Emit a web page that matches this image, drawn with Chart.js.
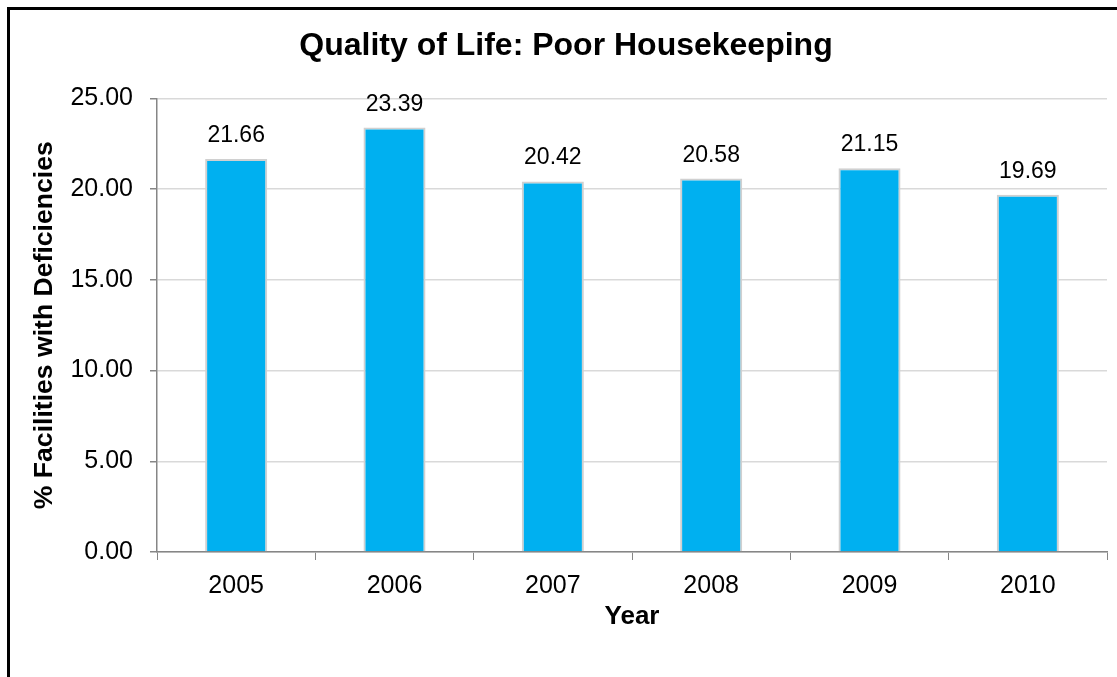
<!DOCTYPE html>
<html>
<head>
<meta charset="utf-8">
<script src="https://cdn.jsdelivr.net/npm/chart.js@4"></script>
<style>
  html, body { margin: 0; padding: 0; background: #fff; overflow: hidden; }
  #frame {
    position: absolute; left: 7px; top: 7px; width: 1200px; height: 800px;
    border: 3px solid #000; box-sizing: border-box;
  }
  #chart { position: absolute; left: 0; top: 0; }
</style>
</head>
<body>
<div id="frame"></div>
<canvas id="chart" width="1117" height="677"></canvas>
<script>
// data
const years = ["2005", "2006", "2007", "2008", "2009", "2010"];
const poorHousekeeping = [21.66, 23.39, 20.42, 20.58, 21.15, 19.69];
const yTicks = [0, 5, 10, 15, 20, 25];

const FONT = "'Liberation Sans', Arial, sans-serif";
const axisGray = "#868686";

// value labels above each bar
const barLabels = {
  id: "barLabels",
  afterDatasetsDraw(chart) {
    const ctx = chart.ctx;
    const meta = chart.getDatasetMeta(0);
    ctx.save();
    ctx.font = "23px " + FONT;
    ctx.fillStyle = "#000";
    ctx.textAlign = "center";
    ctx.textBaseline = "alphabetic";
    meta.data.forEach((bar, i) => {
      ctx.fillText(poorHousekeeping[i].toFixed(2), bar.x, bar.y - 17);
    });
    ctx.restore();
  },
};

const ctx = document.getElementById("chart");
new Chart(ctx, {
  type: "bar",
  data: {
    labels: years,
    datasets: [
      {
        data: poorHousekeeping,
        backgroundColor: "#00B0F0",
        borderColor: "#d0d0d0",
        borderWidth: 2,
        barPercentage: 0.392,
        categoryPercentage: 1,
      },
    ],
  },
  options: {
    responsive: false,
    animation: false,
    devicePixelRatio: 1,
    layout: { padding: { left: 25, right: 10, top: 0, bottom: 0 } },
    plugins: {
      legend: { display: false },
      tooltip: { enabled: false },
      title: {
        display: true,
        text: "Quality of Life: Poor Housekeeping",
        color: "#000",
        font: { family: FONT, size: 32, weight: "bold", lineHeight: 1.2 },
        padding: { top: 27, bottom: 33 },
      },
    },
    scales: {
      x: {
        grid: {
          display: true,
          drawOnChartArea: false,
          drawTicks: true,
          tickLength: 8,
          tickColor: axisGray,
        },
        border: { display: true, color: axisGray, width: 1.5 },
        ticks: {
          color: "#000",
          padding: 11,
          font: { family: FONT, size: 25 },
          maxRotation: 0,
        },
        title: {
          display: true,
          text: "Year",
          color: "#000",
          font: { family: FONT, size: 26, weight: "bold", lineHeight: 1.2 },
          padding: { top: 0, bottom: 45 },
        },
        afterFit(scale) {
          scale.height = 125;
        },
      },
      y: {
        min: 0,
        max: 25,
        afterBuildTicks(scale) {
          scale.ticks = yTicks.map((v) => ({ value: v }));
        },
        grid: {
          color: "#d9d9d9",
          lineWidth: 1.5,
          tickColor: axisGray,
          tickLength: 7,
        },
        border: { display: true, color: axisGray, width: 1.5 },
        ticks: {
          color: "#000",
          padding: 17,
          font: { family: FONT, size: 25 },
          callback: (v) => Number(v).toFixed(2),
        },
        title: {
          display: true,
          text: "% Facilities with Deficiencies",
          color: "#000",
          font: { family: FONT, size: 26.6, weight: "bold", lineHeight: 1.2 },
          padding: { top: 4, bottom: 0 },
        },
        afterFit(scale) {
          scale.width = 132;
        },
      },
    },
  },
  plugins: [barLabels],
});
</script>
</body>
</html>
